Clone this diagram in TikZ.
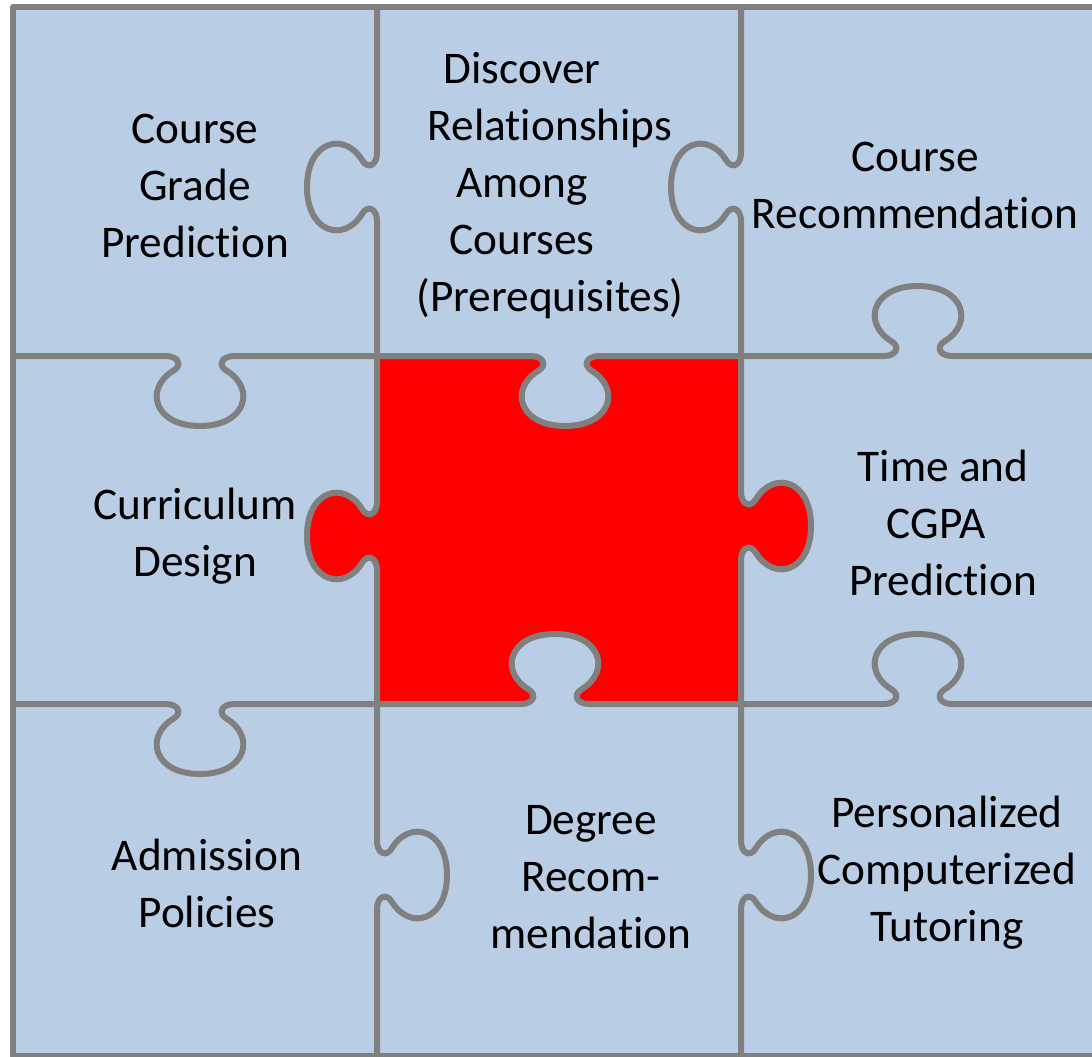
\documentclass[tikz,border=0pt]{standalone}
\usepackage{fontspec}
\setmainfont{Carlito}[Ligatures=NoCommon]
\definecolor{pieceblue}{RGB}{185,205,229}
\definecolor{edgegray}{RGB}{128,128,128}
\newcommand\hknob[3]{% x, y, s (+1 down, -1 up)
 -- ({#1-34},{#2}) .. controls ({#1-22},{#2}) and ({#1-17},{#2+(#3)*9}) .. ({#1-27},{#2+(#3)*15})
 .. controls ({#1-56},{#2+(#3)*33}) and ({#1-46},{#2+(#3)*70}) .. ({#1},{#2+(#3)*70})
 .. controls ({#1+46},{#2+(#3)*70}) and ({#1+56},{#2+(#3)*33}) .. ({#1+27},{#2+(#3)*15})
 .. controls ({#1+17},{#2+(#3)*9}) and ({#1+22},{#2}) .. ({#1+34},{#2})}
\newcommand\vknob[3]{% x, y, s (+1 right, -1 left)
 -- ({#1},{#2-34}) .. controls ({#1},{#2-22}) and ({#1+(#3)*9},{#2-17}) .. ({#1+(#3)*15},{#2-27})
 .. controls ({#1+(#3)*33},{#2-56}) and ({#1+(#3)*70},{#2-46}) .. ({#1+(#3)*70},{#2})
 .. controls ({#1+(#3)*70},{#2+46}) and ({#1+(#3)*33},{#2+56}) .. ({#1+(#3)*15},{#2+27})
 .. controls ({#1+(#3)*9},{#2+17}) and ({#1},{#2+22}) .. ({#1},{#2+34})}
\begin{document}
\begin{tikzpicture}[x=1pt,y=-1pt,
  grid/.style={draw=edgegray,line width=6pt,line join=round},
  lbl/.style={align=center,inner sep=0pt,font=\fontsize{45.3}{57}\selectfont}]
\useasboundingbox (0,0) rectangle (1092,1057);
\clip (0,0) rectangle (1092,1057);
% background
\fill[pieceblue] (13,7) rectangle (1110,1070);
% red centre piece
\fill[red] (377,356) rectangle (741,704);
\fill[red] (377,502) \vknob{377}{536}{-1} -- cycle;
\fill[red] (741,492) \vknob{741}{526}{1} -- cycle;
\fill[pieceblue] (531,356) \hknob{565}{356}{1} -- cycle;
\fill[pieceblue] (521,704) \hknob{555}{704}{-1} -- cycle;
% edges
\draw[grid] (377,7) \vknob{377}{187}{-1} \vknob{377}{536}{-1} \vknob{377}{875}{1} -- (377,1060);
\draw[grid] (741,7) \vknob{741}{187}{-1} \vknob{741}{526}{1} \vknob{741}{875}{1} -- (741,1060);
\draw[grid] (13,356) \hknob{200}{356}{1} \hknob{565}{356}{1} \hknob{918}{356}{-1} -- (1110,356);
\draw[grid] (13,704) \hknob{200}{704}{1} \hknob{555}{704}{-1} \hknob{918}{704}{-1} -- (1110,704);
\draw[grid] (1110,7) -- (13,7) -- (13,1056) -- (1110,1056);
% labels
\node[lbl] (cgp) at (195,186) {Course\\Grade\\Prediction};
\node[lbl] (drc) at (550,186) {Discover\kern56pt\\Relationships\\Among\kern56pt\\Courses\kern56pt\\(Prerequisites)};
\node[lbl] (crec) at (915,185) {Course\\Recommendation};
\node[lbl] (cd) at (195,536) {Curriculum\\Design};
\node[lbl] (tcp) at (943,523) {Time and\\CGPA\kern14pt\\Prediction};
\node[lbl] (ap) at (207,883) {Admission\\Policies};
\node[lbl] (dr) at (591,877) {Degree\\Recom-\\mendation};
\node[lbl] (pct) at (947,873) {Personalized\\Computerized\\Tutoring};
\end{tikzpicture}
\end{document}
